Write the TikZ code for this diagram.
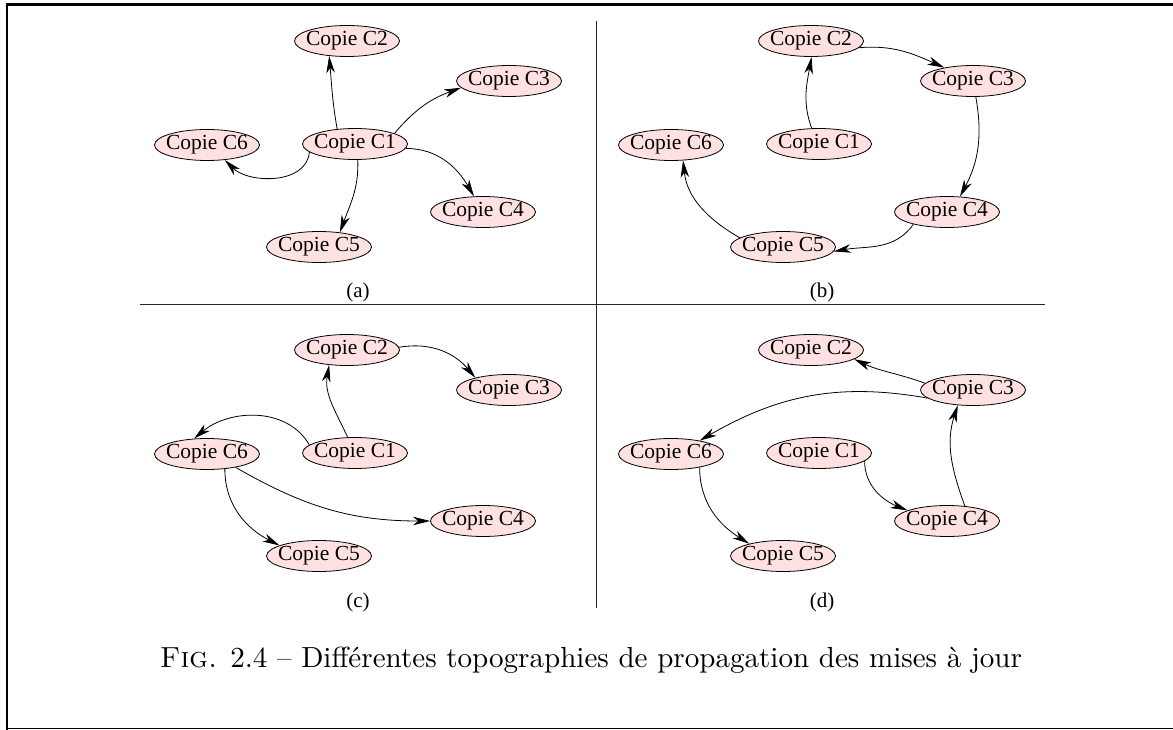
\documentclass[tikz,border=0pt]{standalone}
\usepackage{fontspec}
\usepackage{graphicx}
\newfontfamily\nodefont{Liberation Serif}
\usetikzlibrary{shapes.geometric,arrows.meta}
\definecolor{nodepink}{RGB}{255,225,225}
\newcommand\panelnodes[1]{%
  \node[copie] (#1c1) at (355,144) {\makebox[0pt]{Copie C1}};
  \node[copie] (#1c2) at (347,41) {\makebox[0pt]{Copie C2}};
  \node[copie] (#1c3) at (509,81) {\makebox[0pt]{Copie C3}};
  \node[copie] (#1c4) at (483,212) {\makebox[0pt]{Copie C4}};
  \node[copie] (#1c5) at (319,247) {\makebox[0pt]{Copie C5}};
  \node[copie] (#1c6) at (207,145) {\makebox[0pt]{Copie C6}};
}
\begin{document}
\begin{tikzpicture}[x=1pt,y=-1pt,
  copie/.style={ellipse, draw, fill=nodepink, line width=0.8pt,
    minimum width=105pt, minimum height=31pt, inner sep=0pt,
    font=\nodefont\fontsize{21.5}{21.5}\selectfont},
  arr/.style={-{Stealth[length=17pt,width=8.5pt,inset=5pt]}, line width=0.8pt},
  sublabel/.style={font=\nodefont\fontsize{21}{21}\selectfont},
  frame/.style={line width=2.3pt},
  sep/.style={line width=0.8pt, black!85}]
\useasboundingbox (0,0) rectangle (1173,730);
% frame
\coordinate (fTL) at (7,4.5);
\coordinate (fTR) at (1173,4.5);
\coordinate (fBL) at (7,730);
\draw[frame] (fTR) -- (fTL) -- (fBL);
\coordinate (bL) at (6,728.5);
\coordinate (bR) at (1173,728.5);
\draw[line width=1pt] (bL) -- (bR);
% separators
\coordinate (vT) at (596,21);
\coordinate (vB) at (596,608);
\coordinate (hL) at (140,304.5);
\coordinate (hR) at (1045,304.5);
\draw[sep] (vT) -- (vB);
\draw[sep] (hL) -- (hR);
% panel a
\begin{scope}
\panelnodes{a}
\node[sublabel] (la) at (358,292) {(a)};
\draw[arr] (ac1.140) to[out=100,in=-85] (ac2.220);
\draw[arr] (ac1.15) to[out=50,in=200] (ac3.188);
\draw[arr] (ac1.-5) to[out=0,in=120] (ac4.120);
\draw[arr] (ac1.-80) to[out=-88,in=70] (ac5.35);
\draw[arr] (ac1.190) to[out=-95,in=-45] (ac6.-40);
\end{scope}
% panel b
\begin{scope}[shift={(464,0)}]
\panelnodes{b}
\node[sublabel] (lb) at (358,292) {(b)};
\draw[arr] (bc1.115) to[out=110,in=-100] (bc2.-88);
\draw[arr] (bc2.-8) to[out=5,in=156] (bc3.155);
\draw[arr] (bc3.-80) to[out=-80,in=62] (bc4.50);
\draw[arr] (bc4.200) to[out=-125,in=10] (bc5.-5);
\draw[arr] (bc5.168) to[out=150,in=-84] (bc6.-52);
\end{scope}
% panel c
\begin{scope}[shift={(0,309)}]
\panelnodes{c}
\node[sublabel] (lc) at (358,293) {(c)};
\draw[arr] (cc1.115) to[out=115,in=-100] (cc2.220);
\draw[arr] (cc2.3) to[out=10,in=130] (cc3.160);
\draw[arr] (cc1.170) to[out=120,in=40] (cc6.130);
\draw[arr] (cc6.-40) to[out=-90,in=153] (cc5.165);
\draw[arr] (cc6.-25) to[out=-30,in=180] (cc4.180);
\end{scope}
% panel d
\begin{scope}[shift={(464,309)}]
\panelnodes{d}
\node[sublabel] (ld) at (358,293) {(d)};
\draw[arr] (dc3.172) to[out=160,in=-25] (dc2.-12);
\draw[arr] (dc3.190) to[out=170,in=30] (dc6.25);
\draw[arr] (dc1.-10) to[out=-90,in=158] (dc4.165);
\draw[arr] (dc4.40) to[out=110,in=-108] (dc3.-135);
\draw[arr] (dc6.-25) to[out=-90,in=148] (dc5.160);
\end{scope}
% caption
\node (cap) at (591,660) {\resizebox{862pt}{!}{\textsc{Fig.} 2.4 – Différentes topographies de propagation des mises à jour}};
\end{tikzpicture}
\end{document}
